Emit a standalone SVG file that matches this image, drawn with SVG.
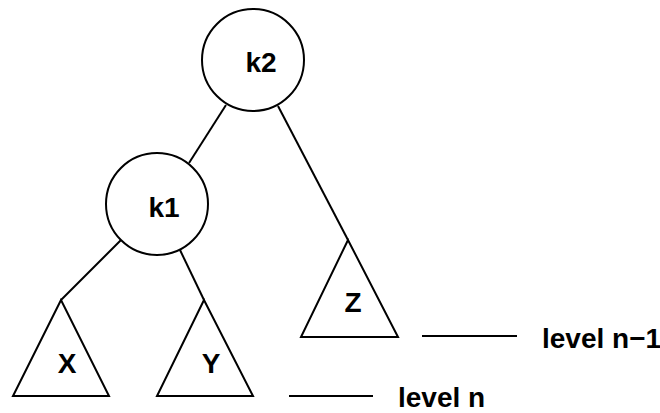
<svg xmlns="http://www.w3.org/2000/svg" width="660" height="413" viewBox="0 0 660 413">
<style>
.s{fill:none;stroke:#000;stroke-width:2}
.n{fill:#fff;stroke:#000;stroke-width:2}
.t{font-family:"Liberation Sans",Arial,sans-serif;font-weight:bold;font-size:28px;fill:#000}
.m{text-anchor:middle}
</style>
<rect width="660" height="413" fill="#fff"/>
<g id="connectors">
<line class="s" x1="226" y1="105" x2="189" y2="163"/>
<line class="s" x1="278" y1="106" x2="348" y2="240"/>
<line class="s" x1="121" y1="240" x2="61" y2="300"/>
<line class="s" x1="180" y1="250" x2="204" y2="300"/>
</g>
<g id="k2"><circle class="n" cx="253" cy="60" r="51"/><text class="t m" x="261" y="72">k2</text></g>
<g id="k1"><circle class="n" cx="157" cy="204" r="51"/><text class="t m" x="164" y="217">k1</text></g>
<g id="X"><polygon class="n" points="61,300 13,396 109,396"/><text class="t m" x="67" y="373">X</text></g>
<g id="Y"><polygon class="n" points="204,300 157,396 253,396"/><text class="t m" x="211" y="373">Y</text></g>
<g id="Z"><polygon class="n" points="348,240 301,337 398,337"/><text class="t m" x="353" y="312">Z</text></g>
<g id="level-n1"><line class="s" x1="422" y1="336" x2="517" y2="336"/><text class="t" x="542" y="348">level n−1</text></g>
<g id="level-n"><line class="s" x1="289" y1="396" x2="373" y2="396"/><text class="t" x="398" y="407">level n</text></g>
</svg>
